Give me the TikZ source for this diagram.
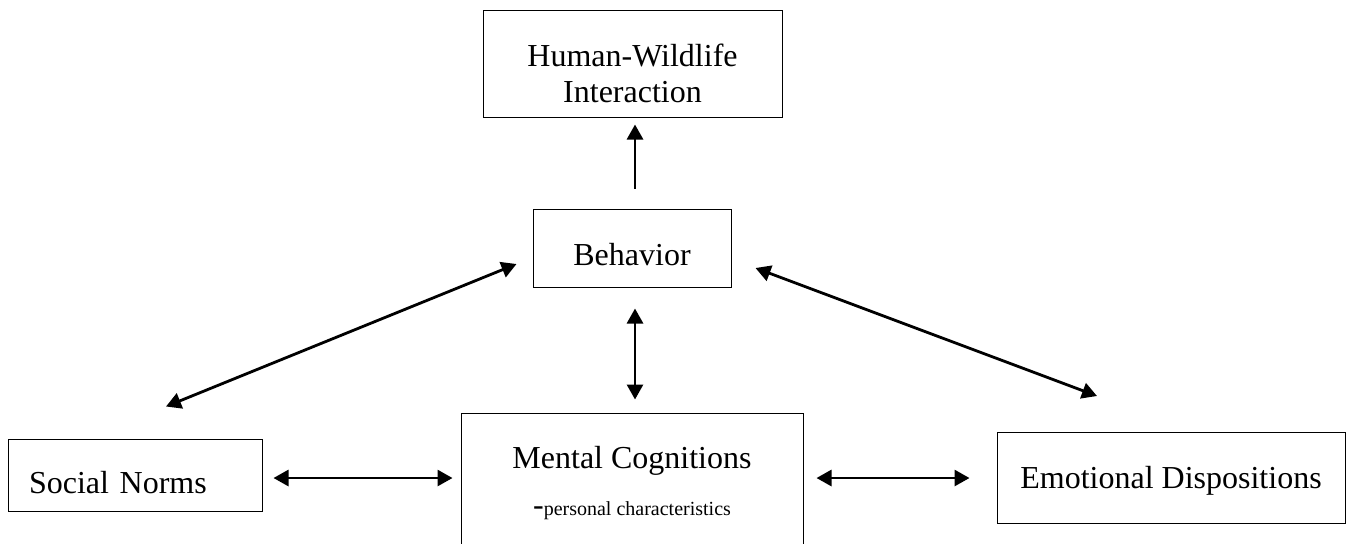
\documentclass[tikz,border=0pt]{standalone}
\usepackage{fontspec}
\setmainfont{Liberation Serif}
\usetikzlibrary{arrows.meta}

\tikzset{
    box/.style={draw, line width=0.5pt, inner xsep=0pt, inner ysep=0pt, align=center},
    link/.style={line width=1.4pt, -{Triangle[length=7.5pt,width=8pt]}},
    twoway/.style={line width=1.4pt, {Triangle[length=7.5pt,width=8pt]}-{Triangle[length=7.5pt,width=8pt]}}
}

\begin{document}
\begin{tikzpicture}[x=0.5pt, y=-0.5pt, font=\fontsize{16}{18}\selectfont]
                    \useasboundingbox (0,0) rectangle (1352,543);

                    \node[box, minimum width=149.5pt, minimum height=53.5pt, text height=40pt, text depth=1.5pt] (hwi) at (632.5,63.5) {Human-Wildlife\\Interaction};
                    \node[box, minimum width=99pt, minimum height=39pt, text height=17pt, text depth=0pt] (behavior) at (632,248) {Behavior};
                    \node[box, minimum width=171pt, minimum height=75pt, text height=34pt, text depth=7pt] (mental) at (632,488)
                        {Mental Cognitions\\[5.5pt]-{\fontsize{10}{12}\selectfont personal characteristics}};
                    \node[box, minimum width=127pt, minimum height=36pt, text width=106pt, inner xsep=10.5pt, align=left, text height=18pt, text depth=0pt] (social) at (135,475) {Social Norms};
                    \node[box, minimum width=174pt, minimum height=45.5pt, text height=14pt, text depth=3.5pt] (emotional) at (1171,478) {Emotional Dispositions};

                    \draw[link] ([shift={(3,-20)}]behavior.north) -- ([shift={(2.5,7)}]hwi.south);
                    \draw[twoway] ([shift={(3,21)}]behavior.south) -- ([shift={(3,-13)}]mental.north);
                    \draw[twoway] ([shift={(31,-32)}]social.north) -- ([shift={(-16,16)}]behavior.west);
                    \draw[twoway] ([shift={(24,20)}]behavior.east) -- ([shift={(-74,-36)}]emotional.north);
                    \draw[twoway] ([shift={(11,3)}]social.east) -- ([shift={(-8,-10)}]mental.west);
                    \draw[twoway] ([shift={(13,-10)}]mental.east) -- ([shift={(-27,0)}]emotional.west);
                        \end{tikzpicture}
\end{document}
